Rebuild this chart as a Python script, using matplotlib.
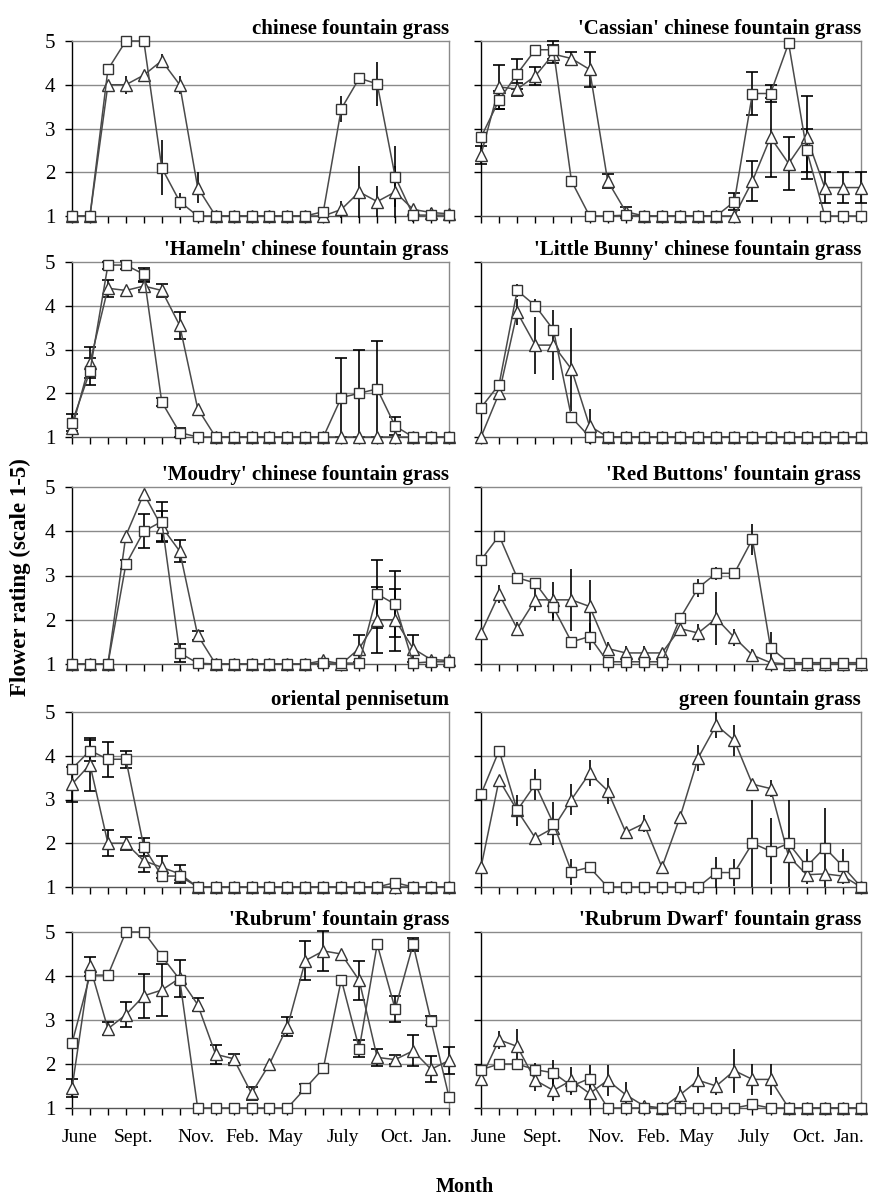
import matplotlib.pyplot as plt
import numpy as np

plt.rcParams['font.family'] = ['Liberation Serif', 'DejaVu Serif']

months = ['June', 'Sept.', 'Nov.', 'Feb.', 'May', 'July', 'Oct.', 'Jan.']
month_pos = [0.4, 3.4, 6.9, 9.5, 11.9, 15.1, 18.1, 20.35]

titles = ["chinese fountain grass", "'Cassian' chinese fountain grass",
          "'Hameln' chinese fountain grass", "'Little Bunny' chinese fountain grass",
          "'Moudry' chinese fountain grass", "'Red Buttons' fountain grass",
          "oriental pennisetum", "green fountain grass",
          "'Rubrum' fountain grass", "'Rubrum Dwarf' fountain grass"]

# squares / triangles (rating) and their error bars, 22 dates each
sq_chinese = [1, 1, 4.35, 5, 5, 2.1, 1.33, 1, 1, 1, 1, 1, 1, 1, 1.1, 3.45, 4.15, 4.02, 1.9, 1.02, 1.02, 1.02]
sq_err_chinese = [0, 0, 0, 0, 0, 0.63, 0.2, 0, 0, 0, 0, 0, 0, 0, 0, 0.3, 0, 0.5, 0.7, 0.15, 0, 0]
tri_chinese = [1, 1, 4, 4, 4.22, 4.55, 4, 1.65, 1, 1, 1, 1, 1, 1, 1, 1.15, 1.55, 1.33, 1.55, 1.15, 1.08, 1.05]
tri_err_chinese = [0, 0, 0, 0.2, 0, 0.15, 0.2, 0.35, 0, 0, 0, 0, 0, 0, 0, 0.2, 0.6, 0.35, 0.6, 0, 0.1, 0]

sq_cassian = [2.8, 3.65, 4.25, 4.8, 4.8, 1.8, 1, 1, 1.02, 1, 1, 1, 1, 1, 1.33, 3.8, 3.8, 4.95, 2.5, 1, 1, 1]
sq_err_cassian = [0, 0.2, 0.35, 0, 0.2, 0, 0, 0, 0, 0, 0, 0, 0, 0, 0.2, 0.5, 0.2, 0, 0.5, 0, 0, 0]
tri_cassian = [2.4, 3.95, 3.9, 4.2, 4.7, 4.6, 4.35, 1.8, 1.1, 1, 1, 1, 1, 1, 1, 1.8, 2.8, 2.2, 2.8, 1.65, 1.65, 1.65]
tri_err_cassian = [0.2, 0.5, 0.15, 0.2, 0.2, 0.15, 0.4, 0.15, 0.1, 0, 0, 0, 0, 0, 0, 0.45, 0.9, 0.6, 0.95, 0.35, 0.35, 0.35]

sq_hameln = [1.33, 2.5, 4.93, 4.93, 4.72, 1.8, 1.1, 1, 1, 1, 1, 1, 1, 1, 1, 1.9, 2.0, 2.1, 1.25, 1, 1, 1]
sq_err_hameln = [0.2, 0.3, 0.08, 0.1, 0.15, 0.1, 0.1, 0, 0, 0, 0, 0, 0, 0, 0, 0.9, 1.0, 1.1, 0.2, 0, 0, 0]
tri_hameln = [1.2, 2.7, 4.4, 4.35, 4.45, 4.35, 3.55, 1.65, 1, 1, 1, 1, 1, 1, 1, 1, 1, 1, 1, 1, 1, 1]
tri_err_hameln = [0, 0.35, 0.2, 0, 0.1, 0.15, 0.3, 0, 0, 0, 0, 0, 0, 0, 0, 0, 0, 0, 0, 0, 0, 0]

sq_bunny = [1.67, 2.2, 4.35, 4.0, 3.45, 1.45, 1, 1, 1, 1, 1, 1, 1, 1, 1, 1, 1, 1, 1, 1, 1, 1]
sq_err_bunny = [0, 0, 0.15, 0.15, 0, 0, 0, 0, 0, 0, 0, 0, 0, 0, 0, 0, 0, 0, 0, 0, 0, 0]
tri_bunny = [1, 2.0, 3.85, 3.1, 3.1, 2.55, 1.25, 1, 1, 1, 1, 1, 1, 1, 1, 1, 1, 1, 1, 1, 1, 1]
tri_err_bunny = [0, 0.15, 0.3, 0.65, 0.8, 0.95, 0.4, 0, 0, 0, 0, 0, 0, 0, 0, 0, 0, 0, 0, 0, 0, 0]

sq_moudry = [1, 1, 1, 3.25, 4.0, 4.22, 1.25, 1.02, 1, 1, 1, 1, 1, 1, 1.02, 1.02, 1.02, 2.58, 2.35, 1.02, 1.05, 1.05]
sq_err_moudry = [0, 0, 0, 0.1, 0.38, 0.45, 0.2, 0, 0, 0, 0, 0, 0, 0, 0, 0, 0, 0.77, 0.75, 0, 0, 0]
tri_moudry = [1, 1, 1, 3.9, 4.85, 4.1, 3.55, 1.65, 1, 1, 1, 1, 1, 1, 1.08, 1.0, 1.35, 2.0, 2.0, 1.35, 1.1, 1.08]
tri_err_moudry = [0, 0, 0, 0, 0, 0.35, 0.25, 0.1, 0, 0, 0, 0, 0, 0, 0, 0, 0.3, 0.75, 0.7, 0.3, 0, 0]

sq_redbuttons = [3.35, 3.9, 2.95, 2.83, 2.28, 1.5, 1.62, 1.05, 1.05, 1.05, 1.05, 2.03, 2.72, 3.05, 3.05, 3.82, 1.37, 1.03, 1.03, 1.03, 1.03, 1.03]
sq_err_redbuttons = [0, 0, 0.1, 0, 0.3, 0.1, 0.3, 0, 0, 0, 0, 0, 0.2, 0.15, 0, 0.35, 0.35, 0, 0, 0, 0, 0]
tri_redbuttons = [1.7, 2.58, 1.8, 2.45, 2.45, 2.45, 2.3, 1.35, 1.25, 1.25, 1.25, 1.8, 1.7, 2.03, 1.6, 1.2, 1.03, 1, 1, 1, 1, 1]
tri_err_redbuttons = [0, 0.2, 0.15, 0.25, 0.4, 0.7, 0.6, 0.15, 0.15, 0.15, 0.1, 0, 0.2, 0.6, 0.2, 0.15, 0, 0, 0, 0, 0, 0]

sq_oriental = [3.7, 4.12, 3.92, 3.92, 1.92, 1.25, 1.25, 1, 1, 1, 1, 1, 1, 1, 1, 1, 1, 1, 1.1, 1, 1, 1]
sq_err_oriental = [0, 0.25, 0.4, 0.2, 0.2, 0, 0, 0, 0, 0, 0, 0, 0, 0, 0, 0, 0, 0, 0, 0, 0, 0]
tri_oriental = [3.35, 3.8, 2.0, 2.0, 1.6, 1.45, 1.3, 1, 1, 1, 1, 1, 1, 1, 1, 1, 1, 1, 1, 1, 1, 1]
tri_err_oriental = [0.4, 0.6, 0.3, 0.15, 0.25, 0.25, 0.2, 0, 0, 0, 0, 0, 0, 0, 0, 0, 0, 0, 0, 0, 0, 0]

sq_green = [3.12, 4.12, 2.75, 3.35, 2.45, 1.35, 1.45, 1, 1, 1, 1, 1, 1, 1.33, 1.33, 2.0, 1.82, 2.0, 1.47, 1.9, 1.47, 1.0]
sq_err_green = [0, 0, 0.35, 0.35, 0.5, 0.3, 0, 0, 0, 0, 0, 0, 0, 0.35, 0.3, 1.0, 0.75, 1.0, 0.4, 0.9, 0.4, 0]
tri_green = [1.45, 3.45, 2.75, 2.12, 2.35, 3.0, 3.6, 3.2, 2.25, 2.45, 1.45, 2.6, 3.95, 4.7, 4.35, 3.35, 3.25, 1.7, 1.28, 1.3, 1.25, 1.0]
tri_err_green = [0, 0, 0, 0, 0, 0.35, 0.3, 0.3, 0, 0.2, 0.1, 0, 0.3, 0.3, 0.35, 0, 0.2, 0, 0, 0, 0, 0]

sq_rubrum = [2.47, 4.02, 4.02, 5.0, 5.0, 4.45, 3.92, 1, 1, 1, 1, 1, 1, 1.45, 1.9, 3.92, 2.35, 4.72, 3.25, 4.72, 2.98, 1.25]
sq_err_rubrum = [0, 0, 0, 0, 0, 0, 0, 0, 0, 0, 0, 0, 0, 0.1, 0, 0, 0.2, 0, 0.3, 0.15, 0.1, 0]
tri_rubrum = [1.45, 4.22, 2.8, 3.12, 3.55, 3.68, 3.95, 3.35, 2.22, 2.12, 1.33, 2.0, 2.85, 4.35, 4.57, 4.5, 3.9, 2.15, 2.1, 2.3, 1.88, 2.08]
tri_err_rubrum = [0.2, 0.22, 0.15, 0.28, 0.5, 0.6, 0.42, 0.15, 0.22, 0.1, 0.15, 0, 0.22, 0.45, 0.45, 0, 0.45, 0.2, 0.1, 0.35, 0.3, 0.3]

sq_dwarf = [1.87, 2.0, 2.0, 1.87, 1.8, 1.5, 1.67, 1, 1, 1, 1, 1, 1, 1, 1, 1.08, 1, 1, 1, 1, 1, 1]
sq_err_dwarf = [0.1, 0, 0, 0.15, 0.3, 0.2, 0.3, 0, 0, 0, 0, 0, 0, 0, 0, 0, 0, 0, 0, 0, 0, 0]
tri_dwarf = [1.67, 2.55, 2.4, 1.63, 1.4, 1.63, 1.33, 1.63, 1.3, 1.05, 1.0, 1.3, 1.63, 1.5, 1.85, 1.65, 1.65, 1, 1, 1, 1, 1]
tri_err_dwarf = [0, 0.2, 0.4, 0.25, 0.25, 0.3, 0.35, 0.35, 0.3, 0.1, 0, 0.2, 0.3, 0.2, 0.5, 0.35, 0.35, 0, 0, 0, 0, 0]

panels = [
    (sq_chinese, sq_err_chinese, tri_chinese, tri_err_chinese),
    (sq_cassian, sq_err_cassian, tri_cassian, tri_err_cassian),
    (sq_hameln, sq_err_hameln, tri_hameln, tri_err_hameln),
    (sq_bunny, sq_err_bunny, tri_bunny, tri_err_bunny),
    (sq_moudry, sq_err_moudry, tri_moudry, tri_err_moudry),
    (sq_redbuttons, sq_err_redbuttons, tri_redbuttons, tri_err_redbuttons),
    (sq_oriental, sq_err_oriental, tri_oriental, tri_err_oriental),
    (sq_green, sq_err_green, tri_green, tri_err_green),
    (sq_rubrum, sq_err_rubrum, tri_rubrum, tri_err_rubrum),
    (sq_dwarf, sq_err_dwarf, tri_dwarf, tri_err_dwarf),
]
caps = [0, 4, 4, 0, 4, 0, 4, 0, 4, 0]

W, H = 872, 1202
fig = plt.figure(figsize=(W / 100, H / 100), dpi=100)

row_px = [(41, 216), (262, 437), (487, 664), (712, 887), (932, 1108)]
col_px = [(72, 449), (481, 861)]

line_c = '#4a4a4a'
x = np.arange(22)

for k, (sq, sq_e, tri, tri_e) in enumerate(panels):
    r, c = divmod(k, 2)
    top, bot = row_px[r]
    left, right = col_px[c]
    ax = fig.add_axes([left / W, 1 - bot / H, (right - left) / W, (bot - top) / H])

    sq = np.array(sq); sq_e = np.array(sq_e)
    tri = np.array(tri); tri_e = np.array(tri_e)

    for yy, ee in ((tri, tri_e), (sq, sq_e)):
        m = ee > 0
        ax.errorbar(x[m], yy[m], yerr=ee[m], fmt='none', ecolor='black',
                    elinewidth=1.2, capsize=caps[k], capthick=1.2, zorder=3, clip_on=False)

    ax.plot(x, tri, color=line_c, lw=1.1, marker='^', ms=8, mfc='white',
            mec='#333333', mew=1.0, zorder=4, clip_on=False)
    ax.plot(x, sq, color=line_c, lw=1.1, marker='s', ms=7.5, mfc='white',
            mec='#333333', mew=1.0, zorder=5, clip_on=False)

    ax.set_xlim(0, 21)
    ax.set_ylim(1, 5)
    ax.set_yticks([1, 2, 3, 4, 5])
    ax.set_xticks(x)
    for yv in (2, 3, 4):
        ax.axhline(yv, color='#8a8a8a', lw=1.0, zorder=1)
    ax.spines['left'].set_color('black')
    ax.spines['bottom'].set_color('#555555')
    ax.spines['top'].set_color('#8a8a8a')
    ax.spines['right'].set_color('#8a8a8a')
    for s in ax.spines.values():
        s.set_linewidth(1.0)
    ax.tick_params(axis='both', direction='out', length=5, width=1, color='black')
    ax.tick_params(axis='x', labelbottom=False)
    if c == 0:
        ax.tick_params(axis='y', labelsize=15, pad=7)
    else:
        ax.tick_params(axis='y', labelleft=False)

    ax.set_title(titles[k], loc='right', fontsize=15, fontweight='bold', pad=5)

    if r == 4:
        for lab, p in zip(months, month_pos):
            ax.text(p, -0.17, lab, transform=ax.get_xaxis_transform(),
                    ha='center', va='center', fontsize=14)

fig.text(20 / W, 1 - 577 / H, 'Flower rating (scale 1-5)', rotation=90,
         ha='center', va='center', fontsize=16.5, fontweight='bold')
fig.text(465 / W, 1 - 1187 / H, 'Month', ha='center', va='center',
         fontsize=14.5, fontweight='bold')

fig.savefig('out.png', dpi=100)
